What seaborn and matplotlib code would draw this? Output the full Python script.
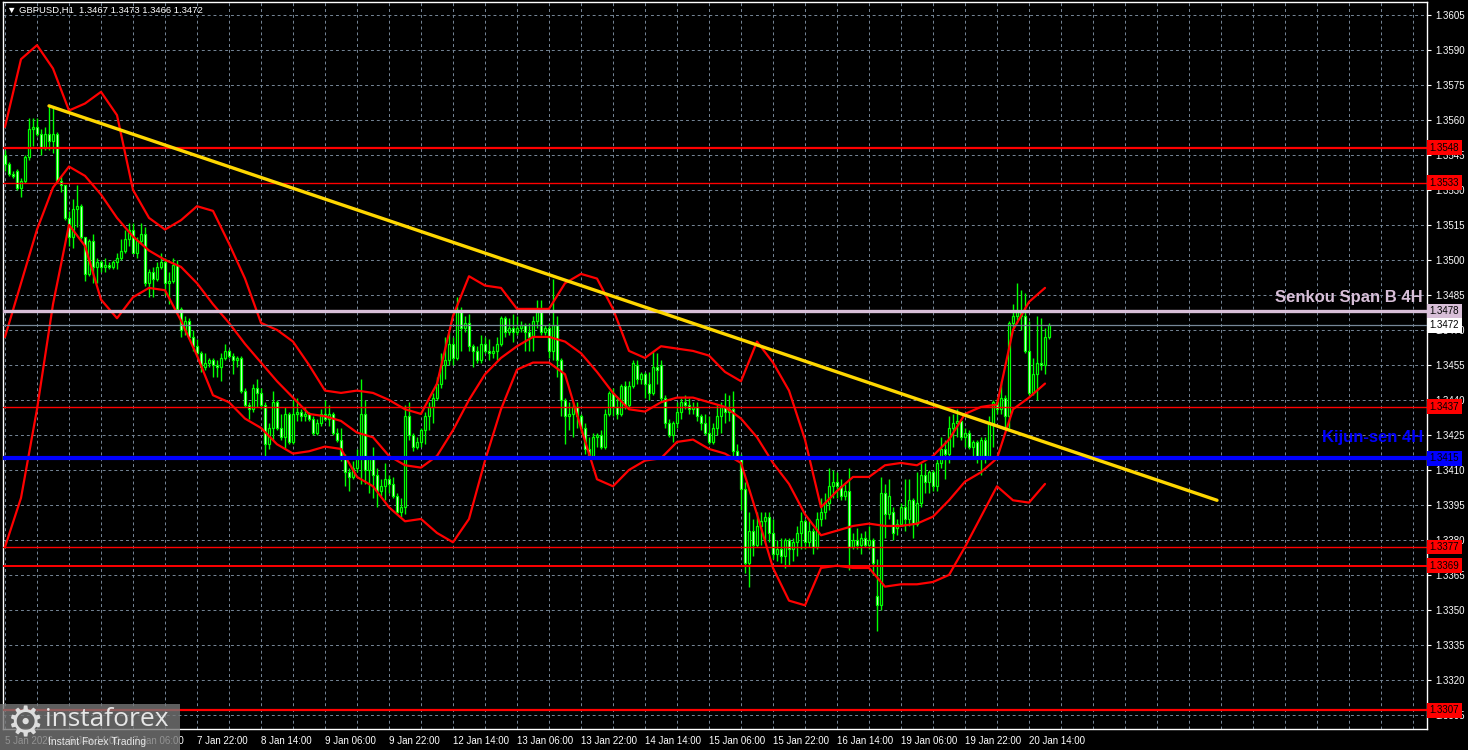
import matplotlib
matplotlib.use("Agg")
import matplotlib.pyplot as plt
from matplotlib.patches import Rectangle
import seaborn as sns
import numpy as np
import pandas as pd

# GBPUSD H1 candles, 5 Jan 22:00 -> 20 Jan 19:00 (weekends skipped)
opens = [
    1.3545, 1.3541, 1.3537, 1.3538, 1.3531, 1.3534, 1.3544, 1.3556, 1.3557, 1.3554,
    1.3548, 1.3554, 1.3551, 1.3554, 1.3534, 1.3532, 1.3518, 1.3510, 1.3522, 1.3523,
    1.3510, 1.3494, 1.3508, 1.3497, 1.3499, 1.3497, 1.3498, 1.3497, 1.3499, 1.3501,
    1.3504, 1.3509, 1.3513, 1.3503, 1.3508, 1.3511, 1.3490, 1.3495, 1.3492, 1.3497,
    1.3499, 1.3490, 1.3491, 1.3498, 1.3479, 1.3470, 1.3474, 1.3467, 1.3463, 1.3460,
    1.3454, 1.3456, 1.3457, 1.3455, 1.3454, 1.3458, 1.3461, 1.3459, 1.3457, 1.3458,
    1.3444, 1.3438, 1.3436, 1.3445, 1.3443, 1.3438, 1.3421, 1.3428, 1.3439, 1.3428,
    1.3424, 1.3434, 1.3422, 1.3434, 1.3435, 1.3433, 1.3434, 1.3432, 1.3426, 1.3430,
    1.3434, 1.3432, 1.3434, 1.3426, 1.3423, 1.3416, 1.3409, 1.3407, 1.3411, 1.3416,
    1.3434, 1.3410, 1.3415, 1.3408, 1.3401, 1.3403, 1.3406, 1.3404, 1.3399, 1.3392,
    1.3394, 1.3433, 1.3425, 1.3420, 1.3422, 1.3427, 1.3433, 1.3437, 1.3441, 1.3447,
    1.3455, 1.3457, 1.3464, 1.3458, 1.3478, 1.3471, 1.3473, 1.3463, 1.3461, 1.3457,
    1.3464, 1.3461, 1.3460, 1.3461, 1.3464, 1.3475, 1.3469, 1.3471, 1.3469, 1.3471,
    1.3472, 1.3469, 1.3467, 1.3474, 1.3479, 1.3469, 1.3471, 1.3461, 1.3472, 1.3457,
    1.3440, 1.3433, 1.3434, 1.3437, 1.3433, 1.3428, 1.3419, 1.3416, 1.3424, 1.3425,
    1.3420, 1.3434, 1.3443, 1.3437, 1.3434, 1.3446, 1.3438, 1.3446, 1.3455, 1.3449,
    1.3451, 1.3447, 1.3443, 1.3454, 1.3455, 1.3441, 1.3430, 1.3425, 1.3430, 1.3435,
    1.3439, 1.3438, 1.3436, 1.3437, 1.3433, 1.3430, 1.3426, 1.3422, 1.3428, 1.3433,
    1.3437, 1.3435, 1.3436, 1.3418, 1.3416, 1.3402, 1.3370, 1.3384, 1.3378, 1.3386,
    1.3388, 1.3390, 1.3383, 1.3374, 1.3376, 1.3373, 1.3380, 1.3376, 1.3379, 1.3383,
    1.3388, 1.3379, 1.3384, 1.3377, 1.3389, 1.3392, 1.3396, 1.3403, 1.3405, 1.3403,
    1.3399, 1.3401, 1.3377, 1.3380, 1.3378, 1.3381, 1.3378, 1.3380, 1.3356, 1.3352,
    1.3400, 1.3391, 1.3392, 1.3385, 1.3387, 1.3394, 1.3389, 1.3397, 1.3387, 1.3396,
    1.3408, 1.3405, 1.3409, 1.3403, 1.3413, 1.3419, 1.3417, 1.3428, 1.3430, 1.3431,
    1.3424, 1.3426, 1.3420, 1.3422, 1.3416, 1.3423, 1.3416, 1.3430, 1.3439, 1.3436,
    1.3441, 1.3433, 1.3473, 1.3476, 1.3478, 1.3476, 1.3461, 1.3443, 1.3451, 1.3456,
    1.3455, 1.3467,
]
highs = [
    1.3547, 1.3542, 1.3538, 1.3539, 1.3535, 1.3545, 1.3561, 1.3561, 1.3561, 1.3556,
    1.3557, 1.3566, 1.3566, 1.3555, 1.3536, 1.3532, 1.3521, 1.3526, 1.3532, 1.3524,
    1.3510, 1.3509, 1.3511, 1.3501, 1.3500, 1.3501, 1.3499, 1.3500, 1.3503, 1.3509,
    1.3513, 1.3516, 1.3516, 1.3510, 1.3516, 1.3514, 1.3496, 1.3497, 1.3499, 1.3503,
    1.3501, 1.3495, 1.3501, 1.3500, 1.3480, 1.3476, 1.3475, 1.3470, 1.3466, 1.3461,
    1.3460, 1.3458, 1.3458, 1.3457, 1.3460, 1.3464, 1.3462, 1.3460, 1.3459, 1.3459,
    1.3445, 1.3439, 1.3447, 1.3449, 1.3445, 1.3439, 1.3430, 1.3444, 1.3440, 1.3434,
    1.3437, 1.3435, 1.3440, 1.3441, 1.3436, 1.3437, 1.3435, 1.3433, 1.3432, 1.3436,
    1.3440, 1.3438, 1.3435, 1.3428, 1.3428, 1.3417, 1.3411, 1.3414, 1.3419, 1.3449,
    1.3440, 1.3416, 1.3420, 1.3411, 1.3406, 1.3413, 1.3408, 1.3407, 1.3400, 1.3398,
    1.3438, 1.3439, 1.3426, 1.3424, 1.3428, 1.3435, 1.3439, 1.3443, 1.3450, 1.3460,
    1.3467, 1.3469, 1.3467, 1.3484, 1.3480, 1.3476, 1.3477, 1.3464, 1.3463, 1.3468,
    1.3467, 1.3466, 1.3463, 1.3467, 1.3476, 1.3476, 1.3475, 1.3477, 1.3476, 1.3474,
    1.3473, 1.3473, 1.3476, 1.3483, 1.3483, 1.3472, 1.3473, 1.3492, 1.3476, 1.3458,
    1.3441, 1.3439, 1.3439, 1.3439, 1.3434, 1.3430, 1.3424, 1.3426, 1.3426, 1.3427,
    1.3436, 1.3444, 1.3445, 1.3441, 1.3447, 1.3448, 1.3448, 1.3457, 1.3457, 1.3452,
    1.3452, 1.3452, 1.3461, 1.3460, 1.3457, 1.3442, 1.3432, 1.3431, 1.3439, 1.3441,
    1.3442, 1.3441, 1.3439, 1.3439, 1.3434, 1.3434, 1.3433, 1.3430, 1.3438, 1.3439,
    1.3443, 1.3442, 1.3444, 1.3421, 1.3417, 1.3405, 1.3392, 1.3389, 1.3392, 1.3392,
    1.3392, 1.3392, 1.3389, 1.3380, 1.3381, 1.3381, 1.3381, 1.3381, 1.3386, 1.3392,
    1.3389, 1.3389, 1.3385, 1.3392, 1.3398, 1.3400, 1.3411, 1.3410, 1.3409, 1.3406,
    1.3404, 1.3411, 1.3383, 1.3385, 1.3383, 1.3384, 1.3386, 1.3381, 1.3372, 1.3407,
    1.3404, 1.3406, 1.3394, 1.3389, 1.3396, 1.3406, 1.3406, 1.3398, 1.3409, 1.3413,
    1.3413, 1.3410, 1.3410, 1.3416, 1.3424, 1.3423, 1.3433, 1.3434, 1.3436, 1.3432,
    1.3428, 1.3427, 1.3423, 1.3423, 1.3424, 1.3424, 1.3433, 1.3440, 1.3441, 1.3448,
    1.3442, 1.3474, 1.3481, 1.3490, 1.3487, 1.3486, 1.3474, 1.3458, 1.3476, 1.3475,
    1.3471, 1.3473,
]
lows = [
    1.3538, 1.3536, 1.3535, 1.3530, 1.3527, 1.3533, 1.3543, 1.3549, 1.3553, 1.3545,
    1.3547, 1.3547, 1.3546, 1.3533, 1.3529, 1.3517, 1.3506, 1.3505, 1.3514, 1.3509,
    1.3491, 1.3493, 1.3490, 1.3490, 1.3495, 1.3495, 1.3496, 1.3496, 1.3496, 1.3500,
    1.3503, 1.3506, 1.3503, 1.3501, 1.3507, 1.3489, 1.3484, 1.3484, 1.3491, 1.3496,
    1.3485, 1.3481, 1.3490, 1.3477, 1.3467, 1.3468, 1.3467, 1.3461, 1.3459, 1.3452,
    1.3453, 1.3454, 1.3450, 1.3450, 1.3448, 1.3457, 1.3458, 1.3451, 1.3454, 1.3443,
    1.3437, 1.3432, 1.3435, 1.3437, 1.3436, 1.3416, 1.3419, 1.3423, 1.3427, 1.3423,
    1.3419, 1.3421, 1.3421, 1.3431, 1.3431, 1.3431, 1.3431, 1.3425, 1.3425, 1.3429,
    1.3431, 1.3429, 1.3425, 1.3422, 1.3414, 1.3403, 1.3401, 1.3406, 1.3409, 1.3404,
    1.3404, 1.3400, 1.3398, 1.3394, 1.3399, 1.3397, 1.3400, 1.3398, 1.3391, 1.3390,
    1.3391, 1.3423, 1.3418, 1.3419, 1.3420, 1.3421, 1.3427, 1.3430, 1.3440, 1.3445,
    1.3449, 1.3455, 1.3455, 1.3457, 1.3461, 1.3469, 1.3461, 1.3454, 1.3456, 1.3456,
    1.3460, 1.3457, 1.3458, 1.3457, 1.3463, 1.3467, 1.3468, 1.3465, 1.3468, 1.3469,
    1.3461, 1.3461, 1.3461, 1.3471, 1.3468, 1.3468, 1.3458, 1.3457, 1.3450, 1.3433,
    1.3421, 1.3427, 1.3424, 1.3428, 1.3426, 1.3417, 1.3415, 1.3415, 1.3420, 1.3419,
    1.3419, 1.3433, 1.3433, 1.3432, 1.3433, 1.3436, 1.3437, 1.3445, 1.3447, 1.3447,
    1.3441, 1.3440, 1.3442, 1.3447, 1.3439, 1.3428, 1.3424, 1.3422, 1.3428, 1.3432,
    1.3436, 1.3434, 1.3434, 1.3431, 1.3427, 1.3425, 1.3421, 1.3421, 1.3425, 1.3426,
    1.3430, 1.3431, 1.3415, 1.3414, 1.3393, 1.3366, 1.3360, 1.3373, 1.3377, 1.3378,
    1.3379, 1.3379, 1.3372, 1.3371, 1.3370, 1.3368, 1.3369, 1.3371, 1.3373, 1.3376,
    1.3376, 1.3377, 1.3374, 1.3376, 1.3386, 1.3389, 1.3393, 1.3398, 1.3398, 1.3397,
    1.3397, 1.3367, 1.3376, 1.3376, 1.3374, 1.3377, 1.3376, 1.3365, 1.3341, 1.3350,
    1.3381, 1.3389, 1.3380, 1.3382, 1.3386, 1.3384, 1.3386, 1.3381, 1.3386, 1.3394,
    1.3400, 1.3400, 1.3401, 1.3401, 1.3411, 1.3406, 1.3413, 1.3420, 1.3424, 1.3423,
    1.3420, 1.3419, 1.3416, 1.3413, 1.3408, 1.3413, 1.3415, 1.3420, 1.3434, 1.3434,
    1.3428, 1.3428, 1.3471, 1.3473, 1.3470, 1.3460, 1.3442, 1.3442, 1.3440, 1.3453,
    1.3451, 1.3466,
]
closes = [
    1.3541, 1.3537, 1.3536, 1.3531, 1.3534, 1.3544, 1.3556, 1.3557, 1.3554, 1.3548,
    1.3554, 1.3551, 1.3554, 1.3534, 1.3532, 1.3518, 1.3510, 1.3522, 1.3523, 1.3510,
    1.3494, 1.3508, 1.3497, 1.3499, 1.3497, 1.3498, 1.3497, 1.3499, 1.3501, 1.3504,
    1.3509, 1.3513, 1.3503, 1.3508, 1.3511, 1.3490, 1.3495, 1.3492, 1.3497, 1.3499,
    1.3490, 1.3491, 1.3498, 1.3479, 1.3470, 1.3474, 1.3467, 1.3463, 1.3460, 1.3454,
    1.3456, 1.3457, 1.3455, 1.3454, 1.3458, 1.3461, 1.3459, 1.3457, 1.3458, 1.3444,
    1.3438, 1.3436, 1.3445, 1.3443, 1.3438, 1.3421, 1.3428, 1.3439, 1.3428, 1.3424,
    1.3434, 1.3422, 1.3434, 1.3435, 1.3433, 1.3434, 1.3432, 1.3426, 1.3430, 1.3434,
    1.3432, 1.3434, 1.3426, 1.3423, 1.3416, 1.3409, 1.3407, 1.3411, 1.3416, 1.3434,
    1.3410, 1.3415, 1.3408, 1.3401, 1.3403, 1.3406, 1.3404, 1.3399, 1.3392, 1.3394,
    1.3433, 1.3425, 1.3420, 1.3422, 1.3427, 1.3433, 1.3437, 1.3441, 1.3447, 1.3455,
    1.3457, 1.3464, 1.3458, 1.3478, 1.3471, 1.3473, 1.3463, 1.3461, 1.3457, 1.3464,
    1.3461, 1.3460, 1.3461, 1.3464, 1.3475, 1.3469, 1.3471, 1.3469, 1.3471, 1.3472,
    1.3469, 1.3467, 1.3474, 1.3479, 1.3469, 1.3471, 1.3461, 1.3472, 1.3457, 1.3440,
    1.3433, 1.3434, 1.3437, 1.3433, 1.3428, 1.3419, 1.3416, 1.3424, 1.3425, 1.3420,
    1.3434, 1.3443, 1.3437, 1.3434, 1.3446, 1.3438, 1.3446, 1.3456, 1.3449, 1.3451,
    1.3447, 1.3443, 1.3454, 1.3453, 1.3441, 1.3430, 1.3425, 1.3430, 1.3435, 1.3439,
    1.3438, 1.3436, 1.3437, 1.3433, 1.3430, 1.3426, 1.3422, 1.3428, 1.3433, 1.3437,
    1.3435, 1.3436, 1.3418, 1.3416, 1.3402, 1.3370, 1.3384, 1.3378, 1.3386, 1.3388,
    1.3390, 1.3383, 1.3374, 1.3376, 1.3373, 1.3380, 1.3376, 1.3379, 1.3383, 1.3388,
    1.3379, 1.3384, 1.3377, 1.3389, 1.3392, 1.3396, 1.3403, 1.3405, 1.3403, 1.3399,
    1.3401, 1.3377, 1.3380, 1.3378, 1.3381, 1.3378, 1.3380, 1.3370, 1.3352, 1.3400,
    1.3391, 1.3399, 1.3383, 1.3387, 1.3394, 1.3389, 1.3397, 1.3387, 1.3396, 1.3408,
    1.3405, 1.3409, 1.3403, 1.3413, 1.3419, 1.3417, 1.3428, 1.3430, 1.3431, 1.3424,
    1.3426, 1.3420, 1.3422, 1.3416, 1.3423, 1.3416, 1.3430, 1.3439, 1.3436, 1.3441,
    1.3433, 1.3473, 1.3476, 1.3478, 1.3476, 1.3461, 1.3443, 1.3451, 1.3456, 1.3455,
    1.3467, 1.3472,
]

# Bollinger bands read every 4th candle
band_idx = list(range(0, 261, 4))
bb_upper = [
    1.3557, 1.3586, 1.3592, 1.3582, 1.3564, 1.3567, 1.3572, 1.3562, 1.3530, 1.3518,
    1.3513, 1.3517, 1.3523, 1.3521, 1.3507, 1.3492, 1.3473, 1.3470, 1.3465, 1.3455,
    1.3444, 1.3443, 1.3444, 1.3443, 1.3440, 1.3436, 1.3434, 1.3447, 1.3476, 1.3493,
    1.3489, 1.3488, 1.3479, 1.3479, 1.3479, 1.3490, 1.3494, 1.3492, 1.3479, 1.3461,
    1.3458, 1.3463, 1.3462, 1.3461, 1.3459, 1.3452, 1.3448, 1.3465, 1.3456, 1.3444,
    1.3423, 1.3394, 1.3401, 1.3407, 1.3407, 1.3412, 1.3413, 1.3412, 1.3416, 1.3423,
    1.3434, 1.3437, 1.3438, 1.3470, 1.3482, 1.3488,
]
bb_middle = [
    1.3467, 1.3490, 1.3513, 1.3531, 1.3540, 1.3536, 1.3528, 1.3518, 1.3510, 1.3504,
    1.3500, 1.3497, 1.3490, 1.3481, 1.3473, 1.3464, 1.3456, 1.3448, 1.3441, 1.3434,
    1.3433, 1.3431, 1.3426, 1.3424, 1.3416, 1.3412, 1.3411, 1.3416, 1.3427, 1.3440,
    1.3451, 1.3458, 1.3463, 1.3467, 1.3467, 1.3465, 1.3460, 1.3452, 1.3443, 1.3436,
    1.3435, 1.3439, 1.3441, 1.3441, 1.3439, 1.3437, 1.3432, 1.3424, 1.3413, 1.3404,
    1.3391, 1.3382, 1.3384, 1.3386, 1.3387, 1.3386, 1.3386, 1.3387, 1.3390, 1.3397,
    1.3405, 1.3409, 1.3415, 1.3436, 1.3441, 1.3447,
]
bb_lower = [
    1.3377, 1.3398, 1.3436, 1.3481, 1.3515, 1.3506, 1.3483, 1.3475, 1.3484, 1.3488,
    1.3487, 1.3474, 1.3459, 1.3442, 1.3439, 1.3432, 1.3428, 1.3421, 1.3417, 1.3418,
    1.3420, 1.3419, 1.3407, 1.3403, 1.3394, 1.3388, 1.3389, 1.3383, 1.3379, 1.3389,
    1.3414, 1.3436, 1.3453, 1.3456, 1.3456, 1.3451, 1.3428, 1.3406, 1.3403, 1.3410,
    1.3414, 1.3415, 1.3422, 1.3423, 1.3419, 1.3417, 1.3413, 1.3391, 1.3368, 1.3354,
    1.3352, 1.3368, 1.3369, 1.3368, 1.3368, 1.3360, 1.3361, 1.3361, 1.3362, 1.3365,
    1.3377, 1.3390, 1.3403, 1.3397, 1.3396, 1.3404,
]

# trend line (candle index, price)
trend_idx = [11, 303]
trend_price = [1.3566, 1.3397]

red_levels = [1.3548, 1.3533, 1.3437, 1.3377, 1.3369, 1.3307]
red_widths = [1.6, 1.0, 1.0, 1.0, 1.4, 1.6]
senkou_b = 1.3478
kijun = 1.3415
last_price = 1.3472

time_ticks = list(range(0, 257, 16))
time_labels = ["5 Jan 2026", "6 Jan 14:00", "7 Jan 06:00", "7 Jan 22:00", "8 Jan 14:00",
               "9 Jan 06:00", "9 Jan 22:00", "12 Jan 14:00", "13 Jan 06:00", "13 Jan 22:00",
               "14 Jan 14:00", "15 Jan 06:00", "15 Jan 22:00", "16 Jan 14:00", "19 Jan 06:00",
               "19 Jan 22:00", "20 Jan 14:00"]
price_ticks = [1.3305, 1.3320, 1.3335, 1.3350, 1.3365, 1.3380, 1.3395, 1.3410, 1.3425,
               1.3440, 1.3455, 1.3470, 1.3485, 1.3500, 1.3515, 1.3530, 1.3545, 1.3560,
               1.3575, 1.3590, 1.3605]

sns.set_style("dark")
plt.rcParams["font.family"] = ["Liberation Sans", "DejaVu Sans"]

fig = plt.figure(figsize=(14.68, 7.5), dpi=100, facecolor="black")
ax = fig.add_axes([3/1468, 21/750, 1424/1468, 727/750])
ax.set_facecolor("black")

df = pd.DataFrame({"o": opens, "h": highs, "l": lows, "c": closes})
df["i"] = np.arange(len(df))
bull = df["c"] >= df["o"]

# candles
ax.vlines(df["i"], df["l"], df["h"], color="#00ff00", lw=1, zorder=2)
body = (df["c"] - df["o"]).abs().clip(lower=0.00003)
ax.bar(df["i"], body, bottom=df[["o", "c"]].min(axis=1), width=0.72,
       color=np.where(bull, "black", "white"), edgecolor="#00ff00", linewidth=0.9, zorder=3)

# bollinger bands
n = len(band_idx)
bands = pd.DataFrame({"i": band_idx * 3,
                      "price": bb_upper + bb_middle + bb_lower,
                      "band": ["upper"] * n + ["middle"] * n + ["lower"] * n})
sns.lineplot(data=bands, x="i", y="price", units="band", estimator=None,
             color="#ff0000", lw=1.6, ax=ax, zorder=4)

# levels
for lv, w in zip(red_levels, red_widths):
    ax.axhline(lv, color="#ff0000", lw=w, zorder=5)
ax.axhline(senkou_b, color="#d8bfd8", lw=2.4, zorder=5)
ax.axhline(last_price, color="#778899", lw=0.9, zorder=5)
ax.axhline(kijun, color="#0000ff", lw=3, zorder=5)

sns.lineplot(x=trend_idx, y=trend_price, color="#ffd700", lw=2.4, ax=ax, zorder=6)

ax.text(0.9972, 1.3484, "Senkou Span B 4H", transform=ax.get_yaxis_transform(),
        ha="right", va="center", color="#d8bfd8", fontsize=12, fontweight="bold", zorder=8)
ax.text(0.9972, 1.3424, "Kijun-sen 4H", transform=ax.get_yaxis_transform(),
        ha="right", va="center", color="#0000ff", fontsize=12, fontweight="bold", zorder=8)

ax.set_xlim(-0.5, 355.5)
ax.set_ylim(1.32990, 1.36105)

ax.grid(True, color="#778899", ls=(0, (3, 3)), lw=0.7)
ax.set_axisbelow(True)

ax.yaxis.tick_right()
ax.set_yticks(price_ticks)
ax.set_yticklabels([f"{t:.4f}" for t in price_ticks])
xt = list(range(0, 353, 8))
lab = dict(zip(time_ticks, time_labels))
ax.set_xticks(xt)
ax.set_xticklabels([lab.get(t, "") for t in xt], ha="left")
ax.tick_params(axis="y", colors="white", labelsize=7, length=3, pad=3)
ax.tick_params(axis="x", colors="white", labelsize=7, length=3, pad=2)
ax.set_xlabel("")
ax.set_ylabel("")
for s in ax.spines.values():
    s.set_color("white")
    s.set_linewidth(1)


def price_box(y, face):
    ax.annotate(f"{y:.4f}", xy=(1, y), xycoords=("axes fraction", "data"),
                xytext=(2, 0), textcoords="offset points", ha="left", va="center",
                fontsize=7, color="black",
                bbox=dict(boxstyle="square,pad=0.25", fc=face, ec="none"),
                annotation_clip=False, zorder=10)


for lv in red_levels:
    price_box(lv, "#ff0000")
price_box(senkou_b, "#d8bfd8")
price_box(last_price, "white")
price_box(kijun, "#0000ff")

fig.text(7/1468, 1 - 10/750, "▼ GBPUSD,H1  1.3467 1.3473 1.3466 1.3472",
         color="white", fontsize=6.8, va="center", ha="left")

# watermark
fig.add_artist(Rectangle((0, 0), 180/1468, 46/750, transform=fig.transFigure,
                         facecolor="#777777", alpha=0.8, edgecolor="none", zorder=20))
fig.text(25/1468, 1 - 724/750, "⚙", fontsize=30, color="#dddddd", ha="center",
         va="center", zorder=21, family="DejaVu Sans")
fig.text(45/1468, 1 - 719/750, "instaforex", fontsize=19, color="#e6e6e6",
         ha="left", va="center", zorder=21, family="Open Sans")
fig.text(48/1468, 1 - 742/750, "Instant Forex Trading", fontsize=7.5, color="#e6e6e6",
         ha="left", va="center", zorder=21)

fig.savefig("out.png", dpi=100, facecolor="black")
